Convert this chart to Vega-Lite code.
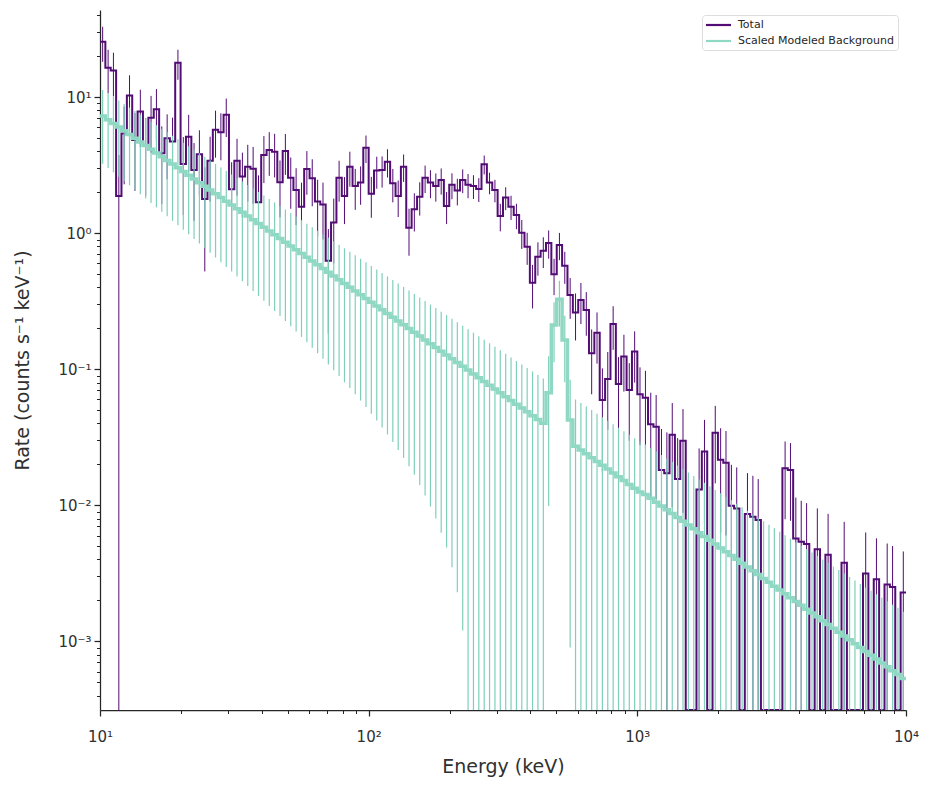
{
"$schema": "https://vega.github.io/schema/vega-lite/v6.json",
"width": 806, "height": 700,
"autosize": {"type": "none"},
"padding": {"left": 100, "top": 10, "right": 25, "bottom": 76},
"background": "white",
"config": {"view": {"stroke": null}, "font": "DejaVu Sans"},
"datasets": {"bins": [
{"lo":10,"hi":10.47,"c":10.23,"bg":7.278,"bge":4.032,"tot":25.6,"tote":7.37},
{"lo":10.47,"hi":10.96,"c":10.72,"bg":6.837,"bge":3.819,"tot":16.5,"tote":5.83},
{"lo":10.96,"hi":11.48,"c":11.22,"bg":6.423,"bge":3.617,"tot":15.7,"tote":5.55},
{"lo":11.48,"hi":12.02,"c":11.75,"bg":6.033,"bge":3.426,"tot":1.88,"tote":1.88},
{"lo":12.02,"hi":12.59,"c":12.30,"bg":5.667,"bge":3.245,"tot":5.42,"tote":3.13},
{"lo":12.59,"hi":13.18,"c":12.88,"bg":5.324,"bge":3.073,"tot":10.3,"tote":4.2},
{"lo":13.18,"hi":13.80,"c":13.49,"bg":5.001,"bge":2.911,"tot":4.85,"tote":2.8},
{"lo":13.80,"hi":14.45,"c":14.13,"bg":4.697,"bge":2.757,"tot":7.85,"tote":3.51},
{"lo":14.45,"hi":15.14,"c":14.79,"bg":4.412,"bge":2.61,"tot":4.46,"tote":2.575},
{"lo":15.14,"hi":15.85,"c":15.49,"bg":4.145,"bge":2.473,"tot":7.07,"tote":3.16},
{"lo":15.85,"hi":16.60,"c":16.22,"bg":3.893,"bge":2.342,"tot":8.15,"tote":3.33},
{"lo":16.60,"hi":17.38,"c":16.98,"bg":3.656,"bge":2.218,"tot":3.87,"tote":2.234},
{"lo":17.38,"hi":18.20,"c":17.78,"bg":3.434,"bge":2.101,"tot":4.99,"tote":2.495},
{"lo":18.20,"hi":19.05,"c":18.62,"bg":3.225,"bge":1.99,"tot":4.72,"tote":2.36},
{"lo":19.05,"hi":19.95,"c":19.50,"bg":3.029,"bge":1.884,"tot":17.9,"tote":4.46},
{"lo":19.95,"hi":20.89,"c":20.42,"bg":2.845,"bge":1.785,"tot":3.23,"tote":1.865},
{"lo":20.89,"hi":21.88,"c":21.38,"bg":2.672,"bge":1.69,"tot":5.13,"tote":2.294},
{"lo":21.88,"hi":22.91,"c":22.39,"bg":2.509,"bge":1.601,"tot":2.92,"tote":1.686},
{"lo":22.91,"hi":23.99,"c":23.44,"bg":2.356,"bge":1.516,"tot":3.81,"tote":1.905},
{"lo":23.99,"hi":25.12,"c":24.55,"bg":2.213,"bge":1.435,"tot":1.79,"tote":1.266},
{"lo":25.12,"hi":26.30,"c":25.70,"bg":2.078,"bge":1.359,"tot":3.42,"tote":1.71},
{"lo":26.30,"hi":27.54,"c":26.92,"bg":1.951,"bge":1.287,"tot":5.78,"tote":2.185},
{"lo":27.54,"hi":28.84,"c":28.18,"bg":1.832,"bge":1.219,"tot":5.53,"tote":2.09},
{"lo":28.84,"hi":30.20,"c":29.51,"bg":1.721,"bge":1.155,"tot":7.44,"tote":2.34},
{"lo":30.20,"hi":31.62,"c":30.90,"bg":1.616,"bge":1.093,"tot":2.11,"tote":1.218},
{"lo":31.62,"hi":33.11,"c":32.36,"bg":1.517,"bge":1.035,"tot":3.42,"tote":1.529},
{"lo":33.11,"hi":34.67,"c":33.88,"bg":1.425,"bge":0.9805,"tot":2.61,"tote":1.305},
{"lo":34.67,"hi":36.31,"c":35.48,"bg":1.338,"bge":0.9284,"tot":3.09,"tote":1.382},
{"lo":36.31,"hi":38.02,"c":37.15,"bg":1.256,"bge":0.8793,"tot":2.98,"tote":1.333},
{"lo":38.02,"hi":39.81,"c":38.90,"bg":1.179,"bge":0.8326,"tot":1.69,"tote":0.976},
{"lo":39.81,"hi":41.69,"c":40.74,"bg":1.107,"bge":0.7883,"tot":3.76,"tote":1.421},
{"lo":41.69,"hi":43.65,"c":42.66,"bg":1.039,"bge":0.7466,"tot":4.09,"tote":1.446},
{"lo":43.65,"hi":45.71,"c":44.67,"bg":0.9758,"bge":0.7069,"tot":3.98,"tote":1.407},
{"lo":45.71,"hi":47.86,"c":46.77,"bg":0.916,"bge":0.6693,"tot":2.37,"tote":1.06},
{"lo":47.86,"hi":50.12,"c":48.98,"bg":0.86,"bge":0.6338,"tot":4.03,"tote":1.343},
{"lo":50.12,"hi":52.48,"c":51.29,"bg":0.8072,"bge":0.6001,"tot":2.56,"tote":1.045},
{"lo":52.48,"hi":54.95,"c":53.70,"bg":0.7577,"bge":0.5683,"tot":2.08,"tote":0.93},
{"lo":54.95,"hi":57.54,"c":56.23,"bg":0.7113,"bge":0.5381,"tot":1.57,"tote":0.785},
{"lo":57.54,"hi":60.26,"c":58.88,"bg":0.6676,"bge":0.5095,"tot":2.97,"tote":1.05},
{"lo":60.26,"hi":63.10,"c":61.66,"bg":0.6266,"bge":0.4824,"tot":2.54,"tote":0.96},
{"lo":63.10,"hi":66.07,"c":64.57,"bg":0.5881,"bge":0.4567,"tot":1.71,"tote":0.765},
{"lo":66.07,"hi":69.18,"c":67.61,"bg":0.552,"bge":0.4325,"tot":1.63,"tote":0.729},
{"lo":69.18,"hi":72.44,"c":70.79,"bg":0.518,"bge":0.4095,"tot":0.629,"tote":0.445},
{"lo":72.44,"hi":75.86,"c":74.13,"bg":0.4862,"bge":0.3876,"tot":1.2,"tote":0.6},
{"lo":75.86,"hi":79.43,"c":77.62,"bg":0.4563,"bge":0.367,"tot":2.56,"tote":0.853},
{"lo":79.43,"hi":83.18,"c":81.28,"bg":0.4277,"bge":0.3475,"tot":1.88,"tote":0.711},
{"lo":83.18,"hi":87.10,"c":85.11,"bg":0.4018,"bge":0.329,"tot":3.09,"tote":0.888},
{"lo":87.10,"hi":91.20,"c":89.13,"bg":0.3771,"bge":0.3115,"tot":2.23,"tote":0.743},
{"lo":91.20,"hi":95.50,"c":93.33,"bg":0.3538,"bge":0.2949,"tot":2.36,"tote":0.741},
{"lo":95.50,"hi":100,"c":97.72,"bg":0.332,"bge":0.2792,"tot":4.26,"tote":0.973},
{"lo":100,"hi":104.7,"c":102.3,"bg":0.3116,"bge":0.2644,"tot":1.95,"tote":0.65},
{"lo":104.7,"hi":109.6,"c":107.2,"bg":0.2923,"bge":0.2502,"tot":2.89,"tote":0.765},
{"lo":109.6,"hi":114.8,"c":112.2,"bg":0.2743,"bge":0.2369,"tot":2.92,"tote":0.752},
{"lo":114.8,"hi":120.2,"c":117.5,"bg":0.2574,"bge":0.2242,"tot":3.36,"tote":0.788},
{"lo":120.2,"hi":125.9,"c":123.0,"bg":0.2415,"bge":0.2123,"tot":2.33,"tote":0.641},
{"lo":125.9,"hi":131.8,"c":128.8,"bg":0.2265,"bge":0.201,"tot":1.88,"tote":0.563},
{"lo":131.8,"hi":138.0,"c":134.9,"bg":0.2125,"bge":0.1902,"tot":3.09,"tote":0.705},
{"lo":138.0,"hi":144.5,"c":141.3,"bg":0.1995,"bge":0.1801,"tot":1.1,"tote":0.416},
{"lo":144.5,"hi":151.4,"c":147.9,"bg":0.1871,"bge":0.1703,"tot":1.5,"tote":0.469},
{"lo":151.4,"hi":158.5,"c":154.9,"bg":0.1755,"bge":0.1614,"tot":1.86,"tote":0.511},
{"lo":158.5,"hi":166.0,"c":162.2,"bg":0.1646,"bge":0.1528,"tot":2.56,"tote":0.585},
{"lo":166.0,"hi":173.8,"c":169.8,"bg":0.1544,"bge":0.1446,"tot":2.36,"tote":0.549},
{"lo":173.8,"hi":182.0,"c":177.8,"bg":0.1449,"bge":0.1369,"tot":2.23,"tote":0.522},
{"lo":182.0,"hi":190.5,"c":186.2,"bg":0.1359,"bge":0.1296,"tot":2.46,"tote":0.536},
{"lo":190.5,"hi":199.5,"c":195.0,"bg":0.1275,"bge":0.1226,"tot":1.59,"tote":0.421},
{"lo":199.5,"hi":208.9,"c":204.2,"bg":0.1196,"bge":0.1161,"tot":2.27,"tote":0.491},
{"lo":208.9,"hi":218.8,"c":213.8,"bg":0.1122,"bge":0.1099,"tot":2.06,"tote":0.457},
{"lo":218.8,"hi":229.1,"c":223.9,"bg":0.1052,"bge":0.104,"tot":2.46,"tote":0.488},
{"lo":229.1,"hi":239.9,"c":234.4,"bg":0.09865,"bge":0.09843,"tot":2.27,"tote":0.459},
{"lo":239.9,"hi":251.2,"c":245.5,"bg":0.09252,"bge":0.09316,"tot":2.23,"tote":0.444},
{"lo":251.2,"hi":263.0,"c":257.0,"bg":0.08679,"bge":0.08819,"tot":2.12,"tote":0.423},
{"lo":263.0,"hi":275.4,"c":269.2,"bg":0.08148,"bge":0.08347,"tot":3.22,"tote":0.51},
{"lo":275.4,"hi":288.4,"c":281.8,"bg":0.07625,"bge":0.079,"tot":2.36,"tote":0.426},
{"lo":288.4,"hi":302.0,"c":295.1,"bg":0.07157,"bge":0.07476,"tot":2.08,"tote":0.391},
{"lo":302.0,"hi":316.2,"c":309.0,"bg":0.06712,"bge":0.07075,"tot":1.34,"tote":0.307},
{"lo":316.2,"hi":331.1,"c":323.6,"bg":0.06294,"bge":0.06696,"tot":1.83,"tote":0.35},
{"lo":331.1,"hi":346.7,"c":338.8,"bg":0.05903,"bge":0.06337,"tot":1.57,"tote":0.317},
{"lo":346.7,"hi":363.1,"c":354.8,"bg":0.05535,"bge":0.05998,"tot":1.36,"tote":0.2885},
{"lo":363.1,"hi":380.2,"c":371.5,"bg":0.0519,"bge":0.05676,"tot":1.01,"tote":0.243},
{"lo":380.2,"hi":398.1,"c":389.0,"bg":0.04866,"bge":0.05372,"tot":0.797,"tote":0.211},
{"lo":398.1,"hi":416.9,"c":407.4,"bg":0.04563,"bge":0.05084,"tot":0.433,"tote":0.153},
{"lo":416.9,"hi":436.5,"c":426.6,"bg":0.04278,"bge":0.04811,"tot":0.673,"tote":0.185},
{"lo":436.5,"hi":457.1,"c":446.7,"bg":0.04011,"bge":0.04553,"tot":0.745,"tote":0.19},
{"lo":457.1,"hi":478.6,"c":467.7,"bg":0.0673,"bge":0.0574,"tot":0.85,"tote":0.199},
{"lo":478.6,"hi":501.2,"c":489.8,"bg":0.212,"bge":0.0995,"tot":0.5,"tote":0.149},
{"lo":501.2,"hi":524.8,"c":512.9,"bg":0.327,"bge":0.1207,"tot":0.82,"tote":0.186},
{"lo":524.8,"hi":549.5,"c":537.0,"bg":0.164,"bge":0.0835,"tot":0.578,"tote":0.153},
{"lo":549.5,"hi":575.4,"c":562.3,"bg":0.0424,"bge":0.0415,"tot":0.352,"tote":0.117},
{"lo":575.4,"hi":602.6,"c":588.8,"bg":0.02723,"bge":0.0327,"tot":0.262,"tote":0.099},
{"lo":602.6,"hi":631.0,"c":616.6,"bg":0.02553,"bge":0.03094,"tot":0.323,"tote":0.108},
{"lo":631.0,"hi":660.7,"c":645.7,"bg":0.02396,"bge":0.02927,"tot":0.273,"tote":0.0965},
{"lo":660.7,"hi":691.8,"c":676.1,"bg":0.02243,"bge":0.0277,"tot":0.131,"tote":0.0655},
{"lo":691.8,"hi":724.4,"c":707.9,"bg":0.02102,"bge":0.02621,"tot":0.186,"tote":0.0759},
{"lo":724.4,"hi":758.6,"c":741.3,"bg":0.01971,"bge":0.0248,"tot":0.0595,"tote":0.0421},
{"lo":758.6,"hi":794.3,"c":776.2,"bg":0.01848,"bge":0.02346,"tot":0.085,"tote":0.0491},
{"lo":794.3,"hi":831.8,"c":812.8,"bg":0.01731,"bge":0.0222,"tot":0.215,"tote":0.076},
{"lo":831.8,"hi":871.0,"c":851.1,"bg":0.01623,"bge":0.021,"tot":0.078,"tote":0.045},
{"lo":871.0,"hi":912.0,"c":891.3,"bg":0.01521,"bge":0.01987,"tot":0.124,"tote":0.0555},
{"lo":912.0,"hi":955.0,"c":933.3,"bg":0.01425,"bge":0.0188,"tot":0.0704,"tote":0.0406},
{"lo":955.0,"hi":1000,"c":977.2,"bg":0.01336,"bge":0.01779,"tot":0.135,"tote":0.0551},
{"lo":1000,"hi":1047,"c":1023,"bg":0.01252,"bge":0.01683,"tot":0.0655,"tote":0.0378},
{"lo":1047,"hi":1096,"c":1072,"bg":0.01201,"bge":0.01601,"tot":0.0618,"tote":0.0357},
{"lo":1096,"hi":1148,"c":1122,"bg":0.01126,"bge":0.01515,"tot":0.0394,"tote":0.0279},
{"lo":1148,"hi":1202,"c":1175,"bg":0.01056,"bge":0.01433,"tot":0.0379,"tote":0.0268},
{"lo":1202,"hi":1259,"c":1230,"bg":0.0099,"bge":0.01356,"tot":0.0182,"tote":0.0182},
{"lo":1259,"hi":1318,"c":1288,"bg":0.009282,"bge":0.01283,"tot":0.0172,"tote":0.0172},
{"lo":1318,"hi":1380,"c":1349,"bg":0.008702,"bge":0.01214,"tot":0.0331,"tote":0.0234},
{"lo":1380,"hi":1445,"c":1413,"bg":0.00815,"bge":0.01149,"tot":0.0156,"tote":0.0156},
{"lo":1445,"hi":1514,"c":1479,"bg":0.007649,"bge":0.01087,"tot":0.0299,"tote":0.0211},
{"lo":1514,"hi":1585,"c":1549,"bg":0.007171,"bge":0.01029,"tot":0,"tote":0},
{"lo":1585,"hi":1660,"c":1622,"bg":0.006722,"bge":0.009734,"tot":0,"tote":0},
{"lo":1660,"hi":1738,"c":1698,"bg":0.006302,"bge":0.00921,"tot":0.0131,"tote":0.0131},
{"lo":1738,"hi":1820,"c":1778,"bg":0.005908,"bge":0.008714,"tot":0.0249,"tote":0.0176},
{"lo":1820,"hi":1905,"c":1862,"bg":0.005539,"bge":0.008245,"tot":0,"tote":0},
{"lo":1905,"hi":1995,"c":1950,"bg":0.005192,"bge":0.007801,"tot":0.0342,"tote":0.0197},
{"lo":1995,"hi":2089,"c":2042,"bg":0.004867,"bge":0.007382,"tot":0.0216,"tote":0.0153},
{"lo":2089,"hi":2188,"c":2138,"bg":0.004562,"bge":0.006984,"tot":0.0206,"tote":0.0146},
{"lo":2188,"hi":2291,"c":2239,"bg":0.004276,"bge":0.006608,"tot":0.00993,"tote":0.00993},
{"lo":2291,"hi":2399,"c":2344,"bg":0.004009,"bge":0.006253,"tot":0.0095,"tote":0.0095},
{"lo":2399,"hi":2512,"c":2455,"bg":0.003757,"bge":0.005915,"tot":0,"tote":0},
{"lo":2512,"hi":2630,"c":2570,"bg":0.003522,"bge":0.005598,"tot":0.00863,"tote":0.00863},
{"lo":2630,"hi":2754,"c":2692,"bg":0.003301,"bge":0.005295,"tot":0.00824,"tote":0.00824},
{"lo":2754,"hi":2884,"c":2818,"bg":0.003097,"bge":0.005009,"tot":0.0078,"tote":0.0078},
{"lo":2884,"hi":3020,"c":2951,"bg":0.0029,"bge":0.004736,"tot":0,"tote":0},
{"lo":3020,"hi":3162,"c":3090,"bg":0.002718,"bge":0.004484,"tot":0,"tote":0},
{"lo":3162,"hi":3311,"c":3236,"bg":0.002547,"bge":0.004242,"tot":0,"tote":0},
{"lo":3311,"hi":3467,"c":3388,"bg":0.00239,"bge":0.004013,"tot":0,"tote":0},
{"lo":3467,"hi":3631,"c":3548,"bg":0.002238,"bge":0.003797,"tot":0.0187,"tote":0.0108},
{"lo":3631,"hi":3802,"c":3715,"bg":0.002097,"bge":0.003592,"tot":0.0182,"tote":0.0105},
{"lo":3802,"hi":3981,"c":3890,"bg":0.001965,"bge":0.003398,"tot":0.0057,"tote":0.0057},
{"lo":3981,"hi":4169,"c":4074,"bg":0.001842,"bge":0.003214,"tot":0.0054,"tote":0.0054},
{"lo":4169,"hi":4365,"c":4266,"bg":0.001726,"bge":0.003041,"tot":0.00519,"tote":0.00519},
{"lo":4365,"hi":4571,"c":4467,"bg":0.001617,"bge":0.002877,"tot":0,"tote":0},
{"lo":4571,"hi":4786,"c":4677,"bg":0.001516,"bge":0.002721,"tot":0.00475,"tote":0.00475},
{"lo":4786,"hi":5012,"c":4898,"bg":0.00142,"bge":0.002575,"tot":0,"tote":0},
{"lo":5012,"hi":5248,"c":5129,"bg":0.001331,"bge":0.002435,"tot":0.00433,"tote":0.00433},
{"lo":5248,"hi":5495,"c":5370,"bg":0.001247,"bge":0.002304,"tot":0,"tote":0},
{"lo":5495,"hi":5754,"c":5623,"bg":0.001169,"bge":0.002179,"tot":0,"tote":0},
{"lo":5754,"hi":6026,"c":5888,"bg":0.001095,"bge":0.002061,"tot":0.00378,"tote":0.00378},
{"lo":6026,"hi":6310,"c":6166,"bg":0.001026,"bge":0.00195,"tot":0,"tote":0},
{"lo":6310,"hi":6607,"c":6457,"bg":0.0009612,"bge":0.001845,"tot":0,"tote":0},
{"lo":6607,"hi":6918,"c":6761,"bg":0.0009005,"bge":0.001745,"tot":0,"tote":0},
{"lo":6918,"hi":7244,"c":7079,"bg":0.0008436,"bge":0.00165,"tot":0.00316,"tote":0.00316},
{"lo":7244,"hi":7586,"c":7413,"bg":0.0007908,"bge":0.001561,"tot":0,"tote":0},
{"lo":7586,"hi":7943,"c":7762,"bg":0.0007407,"bge":0.001477,"tot":0.00286,"tote":0.00286},
{"lo":7943,"hi":8318,"c":8128,"bg":0.0006939,"bge":0.001397,"tot":0,"tote":0},
{"lo":8318,"hi":8710,"c":8511,"bg":0.0006501,"bge":0.001321,"tot":0.00262,"tote":0.00262},
{"lo":8710,"hi":9120,"c":8913,"bg":0.000609,"bge":0.00125,"tot":0.00251,"tote":0.00251},
{"lo":9120,"hi":9550,"c":9333,"bg":0.0005706,"bge":0.001195,"tot":0,"tote":0},
{"lo":9550,"hi":10000,"c":9772,"bg":0.0005345,"bge":0.001118,"tot":0.00229,"tote":0.00229}
]},
"data": {"name": "bins"},
"layer": [
{
"transform": [{"fold": ["lo", "hi"], "as": ["side", "edge"]}],
"mark": {"type": "line", "strokeWidth": 2, "strokeJoin": "miter", "clip": true},
"encoding": {
"x": {"field": "edge", "type": "quantitative", "title": "Energy (keV)",
"scale": {"type": "log", "domain": [10, 10000], "nice": false},
"axis": {
"values": [10,20,30,40,50,60,70,80,90,100,200,300,400,500,600,700,800,900,1000,2000,3000,4000,5000,6000,7000,8000,9000,10000],
"labelExpr": "datum.value == 10 ? '10¹' : datum.value == 100 ? '10²' : datum.value == 1000 ? '10³' : datum.value == 10000 ? '10⁴' : ''",
"tickSize": {"condition": {"test": "datum.value == 10 || datum.value == 100 || datum.value == 1000 || datum.value == 10000", "value": 6}, "value": 3.5},
"tickWidth": {"condition": {"test": "datum.value == 10 || datum.value == 100 || datum.value == 1000 || datum.value == 10000", "value": 1.25}, "value": 1},
"grid": false, "labelFlush": false, "labelOverlap": false, "labelBound": false,
"labelFont": "DejaVu Sans", "labelFontSize": 15, "labelColor": "#303030", "labelPadding": 13,
"domainColor": "#262626", "domainWidth": 1.25, "tickColor": "#262626",
"titleFont": "DejaVu Sans", "titleFontSize": 19, "titleFontWeight": "normal", "titleColor": "#303030",
"titleY": 56, "titleBaseline": "middle"}},
"y": {"field": "tot", "type": "quantitative", "title": "Rate (counts s⁻¹ keV⁻¹)",
"scale": {"type": "log", "domain": [0.000313, 43.8], "nice": false, "clamp": true},
"axis": {
"values": [0.0004,0.0005,0.0006,0.0007,0.0008,0.0009,0.001,0.002,0.003,0.004,0.005,0.006,0.007,0.008,0.009,0.01,0.02,0.03,0.04,0.05,0.06,0.07,0.08,0.09,0.1,0.2,0.3,0.4,0.5,0.6,0.7,0.8,0.9,1,2,3,4,5,6,7,8,9,10,20,30,40],
"labelExpr": "abs(log(datum.value)/LN10 - round(log(datum.value)/LN10)) > 0.001 ? '' : datum.value < 0.005 ? '10⁻³' : datum.value < 0.05 ? '10⁻²' : datum.value < 0.5 ? '10⁻¹' : datum.value < 5 ? '10⁰' : '10¹'",
"tickSize": {"condition": {"test": "abs(log(datum.value)/LN10 - round(log(datum.value)/LN10)) < 0.001", "value": 6}, "value": 3.5},
"tickWidth": {"condition": {"test": "abs(log(datum.value)/LN10 - round(log(datum.value)/LN10)) < 0.001", "value": 1.25}, "value": 1},
"grid": false, "labelOverlap": false, "labelBound": false, "labelFlush": false,
"labelFont": "DejaVu Sans", "labelFontSize": 15, "labelColor": "#303030", "labelPadding": 3,
"domainColor": "#262626", "domainWidth": 1.25, "tickColor": "#262626",
"titleFont": "DejaVu Sans", "titleFontSize": 19, "titleFontWeight": "normal", "titleColor": "#303030",
"titleX": -78, "titleY": 350, "titleBaseline": "middle", "titleAlign": "center", "titleAngle": -90}},
"order": [{"field": "lo", "type": "quantitative"}, {"field": "side", "sort": "descending"}],
"color": {"datum": "Total",
"scale": {"domain": ["Total", "Scaled Modeled Background"], "range": ["#520c74", "#8fd8c4"]},
"legend": {"orient": "none", "legendX": 602, "legendY": 5, "title": null,
"symbolType": "M-2.5,0H2.5", "symbolSize": 100, "symbolStrokeWidth": 2.2, "symbolOffset": 6.5,
"labelFont": "DejaVu Sans", "labelFontSize": 11, "labelColor": "#262626", "labelOffset": 13,
"padding": 3.5, "rowPadding": 4, "strokeColor": "#dddddd", "fillColor": "white", "cornerRadius": 3}}
}
},
{
"mark": {"type": "errorbar", "color": "#520c74", "thickness": 1},
"encoding": {
"x": {"field": "c", "type": "quantitative", "title": "Energy (keV)"},
"y": {"field": "tot", "type": "quantitative", "title": "Rate (counts s⁻¹ keV⁻¹)"},
"yError": {"field": "tote"}
}
},
{
"mark": {"type": "errorbar", "color": "#7fcfba", "thickness": 1.2},
"encoding": {
"x": {"field": "c", "type": "quantitative", "title": "Energy (keV)"},
"y": {"field": "bg", "type": "quantitative", "title": "Rate (counts s⁻¹ keV⁻¹)"},
"yError": {"field": "bge"}
}
},
{
"transform": [{"fold": ["lo", "hi"], "as": ["side", "edge"]}],
"mark": {"type": "line", "strokeWidth": 3.5, "strokeJoin": "miter", "clip": true},
"encoding": {
"x": {"field": "edge", "type": "quantitative", "title": "Energy (keV)"},
"y": {"field": "bg", "type": "quantitative", "title": "Rate (counts s⁻¹ keV⁻¹)"},
"order": [{"field": "lo", "type": "quantitative"}, {"field": "side", "sort": "descending"}],
"color": {"datum": "Scaled Modeled Background"}
}
}
]
}
